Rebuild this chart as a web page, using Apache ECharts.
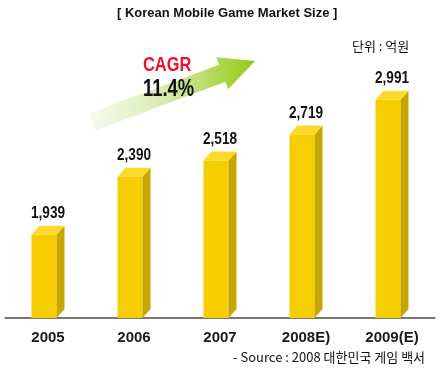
<!DOCTYPE html>
<html>
<head>
<meta charset="utf-8">
<script src="https://cdn.jsdelivr.net/npm/echarts@6/dist/echarts.min.js"></script>
<style>html,body{margin:0;padding:0;background:#fff;}#chart{width:440px;height:371px;}</style>
</head>
<body>
<div id="chart"></div>
<script>
const categories = ['2005', '2006', '2007', '2008E)', '2009(E)'];
const marketSize = [1939, 2390, 2518, 2719, 2991];
const titleText = '[ Korean Mobile Game Market Size ]';
const unitText = '단위 : 억원';
const sourceText = '- Source : 2008 대한민국 게임 백서';
const cagrLabel = 'CAGR';
const cagrValue = '11.4%';

const Y_MIN = 1290, Y_MAX = 3300;
const SANS = '"Liberation Sans", Arial, sans-serif';

function fmt(v) { return String(v).replace(/\B(?=(\d{3})+(?!\d))/g, ','); }

const chart = echarts.init(document.getElementById('chart'));

function renderBar(params, api) {
  const top = api.coord([api.value(0), api.value(1)]);
  const base = api.coord([api.value(0), Y_MIN]);
  const c = top[0];
  const x0 = c - 16.5, x1 = c + 8.5, dx = 8, dy = 9;
  const ty = top[1], by = base[1];
  return {
    type: 'group',
    children: [
      { type: 'rect', shape: { x: x0, y: ty, width: x1 - x0, height: by - ty }, style: { fill: '#f6cd00' } },
      { type: 'polygon', shape: { points: [[x1, ty], [x1 + dx, ty - dy], [x1 + dx, by - dy], [x1, by]] }, style: { fill: '#c8a600' } },
      { type: 'polygon', shape: { points: [[x0, ty], [x0 + dx, ty - dy], [x1 + dx, ty - dy], [x1, ty]] }, style: { fill: '#fed92a' } },
      { type: 'text', x: c, y: ty - dy - 12, scaleX: 0.8,
        style: { text: fmt(api.value(1)), x: 0, y: 0, align: 'center', verticalAlign: 'middle',
          font: 'bold 17px ' + SANS, fill: '#111', stroke: '#fff', lineWidth: 2 } }
    ]
  };
}

// arrow geometry
const S = [92, 122], T = [255, 61];
const len = Math.hypot(T[0] - S[0], T[1] - S[1]);
const u = [(T[0] - S[0]) / len, (T[1] - S[1]) / len];
const n = [-u[1], u[0]];
const w = 9, W = 17, L = 35;
const H = [T[0] - L * u[0], T[1] - L * u[1]];
const p = (P, k) => [P[0] + k * n[0], P[1] + k * n[1]];
const arrowPts = [p(S, -w), p(H, -w), p(H, -W), T, p(H, W), p(H, w), p(S, w)];

chart.setOption({
  animation: false,
  grid: { left: 5, right: 5, top: 60, bottom: 53 },
  xAxis: {
    type: 'category',
    data: categories,
    boundaryGap: true,
    axisLine: { lineStyle: { color: '#544a4a', width: 1.5 } },
    axisTick: { inside: true, length: 4, lineStyle: { color: '#544a4a' } },
    axisLabel: { margin: 12, color: '#1a1a1a', fontFamily: SANS, fontWeight: 'bold', fontSize: 15 }
  },
  yAxis: { type: 'value', min: Y_MIN, max: Y_MAX, show: false },
  graphic: [
    { type: 'polygon', shape: { points: arrowPts }, z: 0,
      style: { fill: new echarts.graphic.LinearGradient(0, 0, 1, 0, [
        { offset: 0, color: 'rgba(248,251,240,1)' },
        { offset: 0.45, color: '#d8ebb0' },
        { offset: 1, color: '#94ca12' }]) } },
    { type: 'text', left: 117, top: 7, style: { text: titleText, font: 'bold 13px ' + SANS, fill: '#111' } },
    { type: 'text', left: 352, top: 40, style: { text: unitText, font: '13px "Noto Sans CJK KR", sans-serif', fill: '#111' } },
    { type: 'text', left: 233, top: 351, style: { text: sourceText, font: '13px "Noto Sans CJK KR", sans-serif', fill: '#111' } },
    { type: 'text', x: 143, y: 55, scaleX: 0.78, z: 10,
      style: { text: cagrLabel, x: 0, y: 0, verticalAlign: 'top', font: 'bold 21px ' + SANS, fill: '#f0102a' } },
    { type: 'text', x: 143, y: 78, scaleX: 0.8, z: 10,
      style: { text: cagrValue, x: 0, y: 0, verticalAlign: 'top', font: 'bold 23px ' + SANS, fill: '#111' } }
  ],
  series: [{
    type: 'custom',
    renderItem: renderBar,
    data: marketSize.map((v, i) => [i, v]),
    encode: { x: 0, y: 1 },
    clip: false
  }]
});
</script>
</body>
</html>
